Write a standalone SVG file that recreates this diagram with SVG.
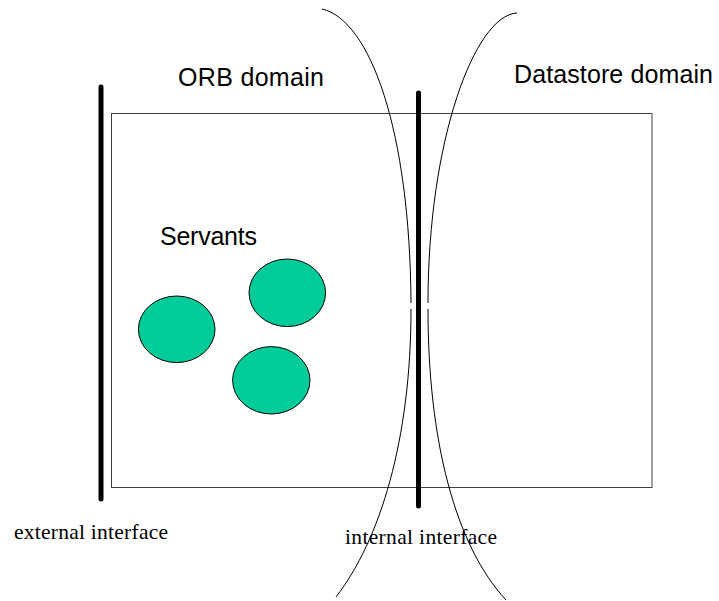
<svg xmlns="http://www.w3.org/2000/svg" width="719" height="601" viewBox="0 0 719 601">
<style>
.sans{font-family:"Liberation Sans",Arial,sans-serif;font-size:25px;fill:#000}
.serif{font-family:"Liberation Serif","Times New Roman",serif;font-size:21.5px;fill:#000}
.bar{stroke:#000;stroke-width:5;stroke-linecap:round;fill:none}
.curve{stroke:#000;stroke-width:1;fill:none}
.servant{fill:#00CC99;stroke:#000;stroke-width:1}
</style>
<rect width="719" height="601" fill="#fff"/>
<g id="domain-box">
<rect x="111.5" y="113.5" width="540.5" height="374" fill="none" stroke="#404040" stroke-width="1"/>
</g>
<g id="labels">
<text class="sans" x="178" y="86" textLength="146" lengthAdjust="spacing">ORB domain</text>
<text class="sans" x="514" y="83" textLength="199" lengthAdjust="spacing">Datastore domain</text>
<text class="sans" x="160" y="245" textLength="97" lengthAdjust="spacing">Servants</text>
<text class="serif" x="14" y="539" textLength="154" lengthAdjust="spacing">external interface</text>
<text class="serif" x="345" y="544" textLength="152" lengthAdjust="spacing">internal interface</text>
</g>
<g id="servants">
<ellipse id="servant1" class="servant" cx="176.7" cy="329.3" rx="38.3" ry="33.3"/>
<ellipse id="servant2" class="servant" cx="287.3" cy="292.8" rx="38.3" ry="33.8"/>
<ellipse id="servant3" class="servant" cx="271.3" cy="380.3" rx="38.7" ry="33.7"/>
</g>
<g id="external-interface">
<line class="bar" x1="101" y1="87" x2="101" y2="499"/>
</g>
<g id="internal-interface">
<line class="bar" x1="418.5" y1="93" x2="418.5" y2="506"/>
</g>
<g id="connectors">
<path class="curve" d="M322,9 C370,20 410,130 411,303"/>
<path class="curve" d="M411,309 C411,440 380,540 336,597"/>
<path class="curve" d="M517,13 C475,15 428,140 428,303"/>
<path class="curve" d="M428,309 C428,440 455,545 506,600"/>
</g>
</svg>
